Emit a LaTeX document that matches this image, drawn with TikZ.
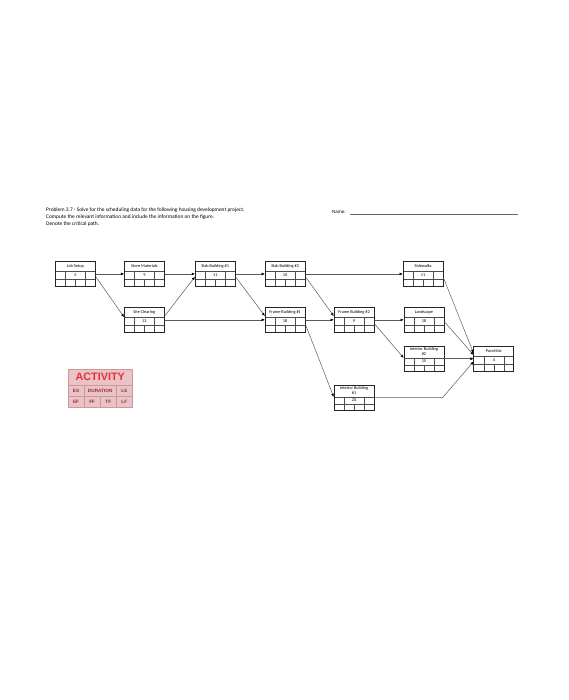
\documentclass[tikz,border=0pt]{standalone}
\usepackage{fontspec}
\setmainfont{Carlito}
\newfontfamily\legendfont{Liberation Sans}
\usetikzlibrary{positioning}
\usetikzlibrary{calc}
\usetikzlibrary{arrows.meta}

\definecolor{legendpink}{HTML}{EBC3C6}
\definecolor{legendline}{HTML}{C79A9D}
\definecolor{legendred}{HTML}{E2333C}
\definecolor{legenddark}{HTML}{93302F}
\definecolor{linkgray}{HTML}{5A5A5A}

\tikzset{
	gridline/.style={draw=black!70, line width=0.45pt},
	actgrid/.style 2 args={path picture={
		\coordinate (gnw) at (path picture bounding box.north west);
		\coordinate (gne) at (path picture bounding box.north east);
		\coordinate (gsw) at (path picture bounding box.south west);
		\coordinate (gse) at (path picture bounding box.south east);
		\draw[gridline] ($(gnw)+(0,-#1pt)$) -- ($(gne)+(0,-#1pt)$);
		\draw[gridline] ($(gnw)+(0,-#2pt)$) -- ($(gne)+(0,-#2pt)$);
		\draw[gridline] ($(gnw)!0.25!(gne)+(0,-#1pt)$) -- ($(gsw)!0.25!(gse)$);
		\draw[gridline] ($(gnw)!0.75!(gne)+(0,-#1pt)$) -- ($(gsw)!0.75!(gse)$);
		\draw[gridline] ($(gnw)!0.5!(gne)+(0,-#2pt)$) -- ($(gsw)!0.5!(gse)$);
	}},
	actbox/.style={
		draw=black!85,
		fill=white,
		line width=0.9pt,
		minimum width=40pt,
		minimum height=25pt,
		inner sep=0pt
	},
	acttext/.style={font=\fontsize{4.3}{5.2}\selectfont, inner sep=0pt, align=center},
	link/.style={draw=linkgray, line width=0.5pt, -{Triangle[length=3pt,width=2.4pt,color=black]}},
	legendbox/.style={
		draw=legendline,
		fill=legendpink,
		line width=0.4pt,
		minimum width=64pt,
		minimum height=38pt,
		inner sep=0pt,
		gridline/.style={draw=legendline, line width=0.4pt}
	},
	legendtitle/.style={font=\legendfont\bfseries\fontsize{10.8}{12}\selectfont, text=legendred, inner sep=0pt},
	legendcell/.style={font=\legendfont\bfseries\fontsize{4.7}{5}\selectfont, text=legenddark, inner sep=0pt}
}

\newcommand{\actlabels}[3]{%
	\node[acttext] (#1-title) at ([yshift=-5.2pt]#1.north) {#2};
	\node[acttext] (#1-dur) at ([yshift=-14pt]#1.north) {#3};
}

\begin{document}
\begin{tikzpicture}[x=1pt, y=1pt]

\useasboundingbox (0,0) rectangle (568,700);

% header
\node[
	font=\fontsize{5.4}{7}\selectfont,
	align=left,
	inner sep=0pt,
	anchor=north west
] (problem) at (46,492.5) {Problem 3.7 - Solve for the scheduling data for the following housing development project.\\
Compute the relevant information and include the information on the figure.\\
Denote the critical path.};

\node[
	font=\fontsize{5}{7}\selectfont,
	inner sep=0pt,
	anchor=west
] (name) at (332,488) {Name:};
\draw[black!60, line width=0.5pt] (350,486) -- (518,486);

% activities
\node[actbox, actgrid={10}{18}, anchor=north west] (jobsetup) at (55,439) {};
\actlabels{jobsetup}{Job Setup}{5}

\node[actbox, actgrid={10}{18}, right=28pt of jobsetup] (storemat) {};
\actlabels{storemat}{Store Materials}{9}

\node[actbox, actgrid={10}{18}, right=30pt of storemat] (slab1) {};
\actlabels{slab1}{Slab Building \#1}{11}

\node[actbox, actgrid={10}{18}, right=29pt of slab1] (slab2) {};
\actlabels{slab2}{Slab Building \#2}{10}

\node[actbox, actgrid={10}{18}, right=97pt of slab2] (sidewalks) {};
\actlabels{sidewalks}{Sidewalks}{11}

\node[actbox, actgrid={10}{18}, below=20pt of storemat] (siteclear) {};
\actlabels{siteclear}{Site Clearing}{13}

\node[actbox, actgrid={10}{18}, below=20pt of slab2] (frame1) {};
\actlabels{frame1}{Frame Building \#1}{18}

\node[actbox, actgrid={10}{18}, right=28pt of frame1] (frame2) {};
\actlabels{frame2}{Frame Building \#2}{9}

\node[actbox, actgrid={10}{18}, right=29pt of frame2] (landscape) {};
\actlabels{landscape}{Landscape}{18}

\node[actbox, actgrid={12}{19}, below=13pt of landscape] (interior2) {};
\node[acttext] (interior2-title) at ([yshift=-6pt]interior2.north) {Interior Building\\\#2};
\node[acttext] (interior2-dur) at ([yshift=-15.5pt]interior2.north) {15};

\node[actbox, actgrid={10}{18}, right=29pt of interior2] (punchlist) {};
\actlabels{punchlist}{Punchlist}{4}

\node[actbox, actgrid={12}{19}, below=52pt of frame2] (interior1) {};
\node[acttext] (interior1-title) at ([yshift=-6pt]interior1.north) {Interior Building\\\#1};
\node[acttext] (interior1-dur) at ([yshift=-15.5pt]interior1.north) {20};

% legend
\node[legendbox, actgrid={16}{27}, anchor=north west] (legend) at (68,331) {};
\node[legendtitle] (legend-title) at ([yshift=-8pt]legend.north) {ACTIVITY};
\node[legendcell] (legend-ES) at ($(legend.north west)!0.125!(legend.north east)+(0,-21.5pt)$) {ES};
\node[legendcell] (legend-DUR) at ($(legend.north west)!0.5!(legend.north east)+(0,-21.5pt)$) {DURATION};
\node[legendcell] (legend-LS) at ($(legend.north west)!0.875!(legend.north east)+(0,-21.5pt)$) {LS};
\foreach \lbl [count=\i] in {EF,FF,TF,LF}
	\node[legendcell] (legend-\lbl) at ($(legend.north west)!{(\i-0.5)/4}!(legend.north east)+(0,-32.5pt)$) {\lbl};

% ---

\draw[link] (jobsetup.east) -- (storemat.west);
\draw[link] ([yshift=-3pt]jobsetup.east) -- ([yshift=3pt]siteclear.west);
\draw[link] (storemat.east) -- (slab1.west);
\draw[link] ([yshift=4pt]siteclear.east) -- ([yshift=-3pt]slab1.west);
\draw[link] (siteclear.east) -- (frame1.west);
\draw[link] (slab1.east) -- (slab2.west);
\draw[link] ([yshift=-3pt]slab1.east) -- ([yshift=4pt]frame1.west);
\draw[link] (slab2.east) -- (sidewalks.west);
\draw[link] ([yshift=-3pt]slab2.east) -- ([yshift=4pt]frame2.west);
\draw[link] (frame1.east) -- (frame2.west);
\draw[link] ([yshift=-5pt]frame1.east) -- ([yshift=1pt]interior1.west);
\draw[link] (frame2.east) -- (landscape.west);
\draw[link] ([yshift=-4pt]frame2.east) -- ([yshift=1pt]interior2.west);
\draw[link] ([yshift=-4pt]sidewalks.east) -- ([yshift=6pt]punchlist.west);
\draw[link] ([yshift=-2pt]landscape.east) -- ([yshift=4pt]punchlist.west);
\draw[link] (interior2.east) -- (punchlist.west);
\draw[link] (interior1.east) -- ++(68pt,0) -- ([yshift=-3pt]punchlist.west);

\end{tikzpicture}
\end{document}
